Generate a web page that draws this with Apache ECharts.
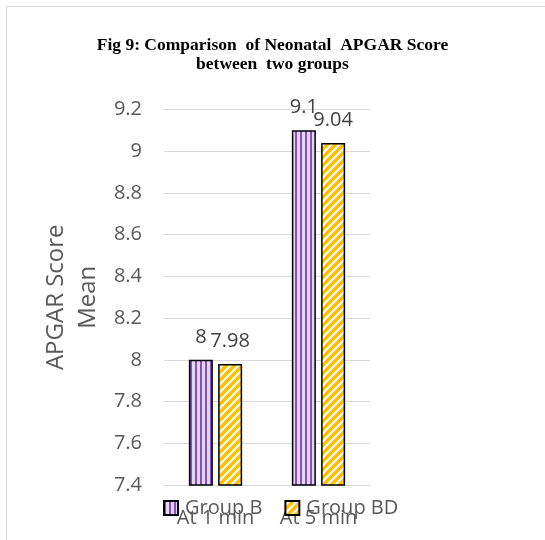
<!DOCTYPE html>
<html>
<head>
<meta charset="utf-8">
<script src="https://cdn.jsdelivr.net/npm/echarts@6/dist/echarts.min.js"></script>
<style>
  html, body { margin: 0; padding: 0; background: #fff; }
  #chart { width: 545px; height: 540px; }
</style>
</head>
<body>
<div id="chart"></div>
<script>
// Mean neonatal APGAR score per group
const categories = ['At 1 min', 'At 5 min'];
const groupB = [8, 9.1];
const groupBD = [7.98, 9.04];
const seriesNames = ['Group B', 'Group BD'];
const yTicks = { min: 7.4, max: 9.2, step: 0.2 };

// Vertical purple stripes
function stripePattern() {
  const c = document.createElement('canvas');
  c.width = 5; c.height = 5;
  const g = c.getContext('2d');
  g.fillStyle = '#e4d6f2';
  g.fillRect(0, 0, 5, 5);
  g.fillStyle = '#8452c0';
  g.fillRect(0, 0, 2, 5);
  return c;
}

// Upward diagonal gold stripes
function diagPattern() {
  const s = 8;
  const c = document.createElement('canvas');
  c.width = s; c.height = s;
  const g = c.getContext('2d');
  g.fillStyle = '#ffffff';
  g.fillRect(0, 0, s, s);
  g.strokeStyle = '#ffc000';
  g.lineWidth = 3.4;
  g.lineCap = 'square';
  [[0, s, s, 0], [-s / 2, s / 2, s / 2, -s / 2], [s / 2, s * 1.5, s * 1.5, s / 2]].forEach(l => {
    g.beginPath(); g.moveTo(l[0], l[1]); g.lineTo(l[2], l[3]); g.stroke();
  });
  return c;
}

const chart = echarts.init(document.getElementById('chart'), null, { renderer: 'canvas' });
const textColor = '#595959';
const font = '"Open Sans", "Noto Sans", sans-serif';

const labelCfg = {
  show: true,
  position: 'top',
  distance: 13,
  color: '#404040',
  fontSize: 20,
  fontFamily: font
};

chart.setOption({
  animation: false,
  backgroundColor: '#ffffff',
  title: {
    text: 'Fig 9: Comparison  of Neonatal  APGAR Score\nbetween  two groups',
    left: 'center',
    top: 31,
    textStyle: {
      fontFamily: '"Liberation Serif", "Times New Roman", serif',
      fontWeight: 'bold',
      fontSize: 17.5,
      lineHeight: 19,
      color: '#000000'
    }
  },
  graphic: [{
    type: 'rect',
    shape: { x: 6.5, y: 6.5, width: 700, height: 700 },
    style: { fill: 'none', stroke: '#d9d9d9', lineWidth: 1 },
    silent: true
  }],
  legend: {
    data: seriesNames,
    left: 163,
    top: 498,
    padding: 0,
    itemWidth: 14,
    itemHeight: 14,
    itemGap: 22,
    icon: 'rect',
    textStyle: { color: textColor, fontSize: 20, fontFamily: font, padding: [0, 0, 0, 2] }
  },
  grid: { left: 164, right: 175, top: 109.5, bottom: 55, containLabel: false },
  xAxis: {
    type: 'category',
    data: categories,
    axisLine: { lineStyle: { color: '#d9d9d9', width: 1 } },
    axisTick: { show: false },
    axisLabel: { color: textColor, fontSize: 20, fontFamily: font, margin: 23 }
  },
  yAxis: {
    type: 'value',
    min: yTicks.min,
    max: yTicks.max,
    interval: yTicks.step,
    name: 'APGAR Score\nMean',
    nameLocation: 'middle',
    nameGap: 60,
    nameRotate: 90,
    nameTextStyle: { color: textColor, fontSize: 24, fontFamily: font, lineHeight: 32 },
    axisLine: { show: false },
    axisTick: { show: false },
    splitLine: { lineStyle: { color: '#d9d9d9', width: 1 } },
    axisLabel: {
      color: textColor, fontSize: 20, fontFamily: font, margin: 22,
      formatter: v => String(+v.toFixed(1))
    }
  },
  series: [
    {
      name: seriesNames[0],
      type: 'bar',
      data: groupB,
      barWidth: 24,
      barGap: '22%',
      itemStyle: { color: { image: stripePattern(), repeat: 'repeat' }, borderColor: '#000', borderWidth: 1.5 },
      label: labelCfg
    },
    {
      name: seriesNames[1],
      type: 'bar',
      data: groupBD,
      barWidth: 24,
      itemStyle: { color: { image: diagPattern(), repeat: 'repeat' }, borderColor: '#000', borderWidth: 1.5 },
      label: labelCfg
    }
  ]
});
</script>
</body>
</html>
